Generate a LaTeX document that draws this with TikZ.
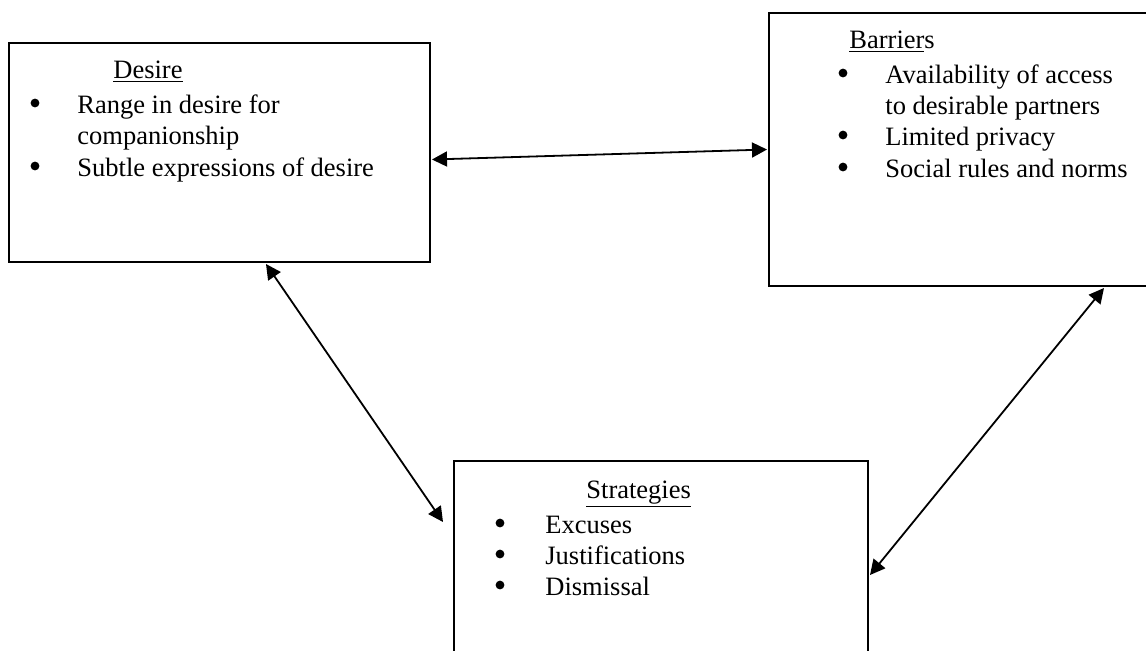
\documentclass[tikz,border=0pt]{standalone}
\usepackage{fontspec}
\setmainfont{Liberation Serif}
\usetikzlibrary{arrows.meta}
\tikzset{
  box/.style={draw, line width=1pt, inner sep=0pt, anchor=north west},
  txt/.style={inner sep=0pt, anchor=base west, font=\fontsize{13.25pt}{15.75pt}\selectfont},
  bul/.style={circle, fill, inner sep=0pt, minimum size=4.4pt},
  link/.style={line width=0.9pt, {Triangle[length=7.5pt,width=7.5pt]}-{Triangle[length=7.5pt,width=7.5pt]}}
}
\begin{document}
\begin{tikzpicture}[x=0.5pt,y=-0.5pt]
\clip (0,0) rectangle (1146,650);
\fill[white] (0,0) rectangle (1146,650);
% boxes
\node[box, minimum width=210.5pt, minimum height=109.5pt] (desire) at (8,42) {};
\node[box, minimum width=200pt, minimum height=136.5pt] (barriers) at (768,12) {};
\node[box, minimum width=207pt, minimum height=115pt] (strategies) at (453,460) {};
% Desire text
\node[txt] (dt) at (113,78) {\underline{Desire}};
\node[bul] (db1) at (35,103) {};
\node[txt] (d1a) at (77,113) {Range in desire for};
\node[txt] (d1b) at (77,144) {companionship};
\node[bul] (db2) at (35,166) {};
\node[txt] (d2) at (77,176) {Subtle expressions of desire};
% Barriers text
\node[txt] (bt) at (849,48) {\underline{Barrier}s};
\node[bul] (bb1) at (843,73) {};
\node[txt] (b1a) at (885,83) {Availability of access};
\node[txt] (b1b) at (885,114) {to desirable partners};
\node[bul] (bb2) at (843,135) {};
\node[txt] (b2) at (885,145) {Limited privacy};
\node[bul] (bb3) at (843,167) {};
\node[txt] (b3) at (885,177) {Social rules and norms};
% Strategies text
\node[txt] (st) at (586,498) {\underline{Strategies}};
\node[bul] (sb1) at (500,523) {};
\node[txt] (s1) at (545,533) {Excuses};
\node[bul] (sb2) at (500,554) {};
\node[txt] (s2) at (545,564) {Justifications};
\node[bul] (sb3) at (500,585) {};
\node[txt] (s3) at (545,595) {Dismissal};
% connectors
\draw[link] ([xshift=0.5pt,yshift=-3.5pt]desire.east) -- ([xshift=-0.5pt]barriers.west);
\draw[link] ([xshift=23.25pt,yshift=-0.5pt]desire.south) -- ([xshift=-5pt,yshift=-31pt]strategies.north west);
\draw[link] ([xshift=168pt,yshift=-0.5pt]barriers.south west) -- ([xshift=0.5pt,yshift=-57.5pt]strategies.north east);
\end{tikzpicture}
\end{document}
